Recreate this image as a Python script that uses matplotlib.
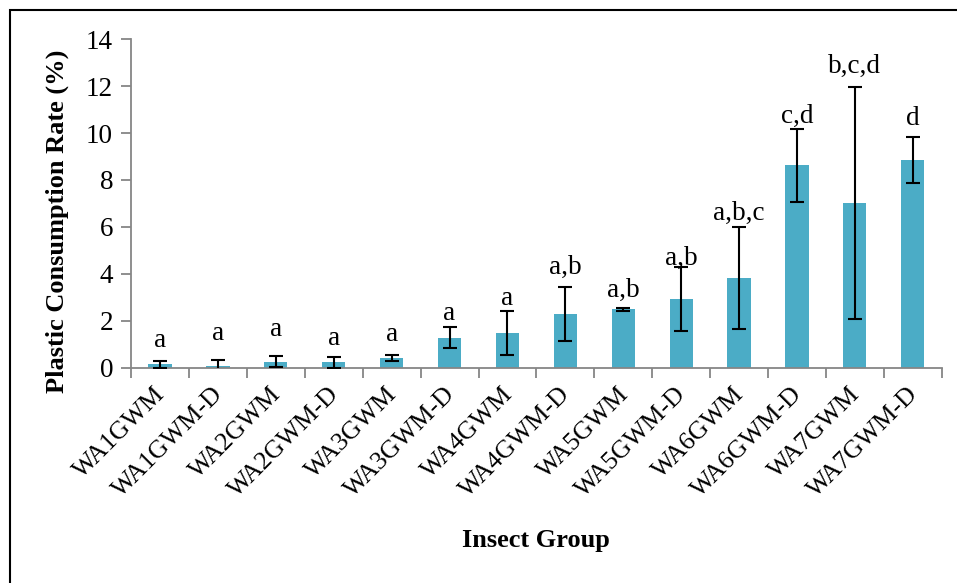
import numpy as np
import matplotlib.pyplot as plt
import matplotlib.transforms as mtrans
from matplotlib.patches import Rectangle

groups = ['WA1GWM', 'WA1GWM-D', 'WA2GWM', 'WA2GWM-D', 'WA3GWM', 'WA3GWM-D',
          'WA4GWM', 'WA4GWM-D', 'WA5GWM', 'WA5GWM-D', 'WA6GWM', 'WA6GWM-D',
          'WA7GWM', 'WA7GWM-D']
rate = [0.15, 0.10, 0.26, 0.23, 0.41, 1.29, 1.48, 2.31, 2.50, 2.93, 3.82, 8.62, 7.00, 8.86]
err = [0.16, 0.24, 0.24, 0.23, 0.12, 0.44, 0.93, 1.15, 0.07, 1.35, 2.17, 1.56, 4.94, 0.99]
letters = ['a', 'a', 'a', 'a', 'a', 'a', 'a', 'a,b', 'a,b', 'a,b', 'a,b,c', 'c,d', 'b,c,d', 'd']
# where the letters sit (data units, baseline)
letter_y = [0.91, 1.19, 1.34, 0.98, 1.16, 2.04, 2.68, 4.0, 3.04, 4.39, 6.3, 10.42, 12.55, 10.35]

plt.rcParams['font.family'] = ['Liberation Serif', 'DejaVu Serif']

fig = plt.figure(figsize=(9.57, 5.83), dpi=100)
ax = fig.add_axes([0.137, 0.369, 0.847, 0.564])

x = np.arange(len(groups))
ax.bar(x, rate, width=0.4, color='#4BACC6', zorder=2)
ax.errorbar(x, rate, yerr=err, fmt='none', ecolor='black', elinewidth=1.5,
            capsize=5, capthick=1.5, zorder=3)

for xi, lab, ly in zip(x, letters, letter_y):
    ax.text(xi, ly, lab, ha='center', va='baseline', fontsize=19.5, zorder=4)

ax.set_xlim(-0.5, len(groups) - 0.5)
ax.set_ylim(0, 14)
ax.set_yticks(np.arange(0, 15, 2))
ax.set_xticks(x)
ax.set_xticklabels(groups, rotation=45, ha='right', rotation_mode='anchor', fontsize=18.5)
ax.set_xticks(np.arange(-0.5, len(groups), 1), minor=True)
ax.tick_params(axis='x', which='major', length=0, pad=11)
ax.tick_params(axis='x', which='minor', length=7, color='#868686', width=1.3)
ax.tick_params(axis='y', length=7, color='#868686', width=1.3, labelsize=19.5, pad=6)

# nudge the slanted labels a little to the left
shift = mtrans.ScaledTranslation(-6 / 100, 0, fig.dpi_scale_trans)
for lbl in ax.get_xticklabels():
    lbl.set_transform(lbl.get_transform() + shift)

for side in ['top', 'right']:
    ax.spines[side].set_visible(False)
for side in ['left', 'bottom']:
    ax.spines[side].set_color('#868686')
    ax.spines[side].set_linewidth(1.3)

ax.set_ylabel('Plastic Consumption Rate (%)', fontsize=19, fontweight='bold')
ax.yaxis.set_label_coords(-0.077, 0.447)
ax.set_xlabel('Insect Group', fontsize=19, fontweight='bold')
ax.xaxis.set_label_coords(0.499, -0.49)

# outer frame around the figure
fig.patches.append(Rectangle((10 / 957, -0.1), 1.2, 1.1 - 10 / 583, transform=fig.transFigure,
                             fill=False, edgecolor='black', linewidth=1.5))

fig.savefig('out.png', dpi=100)
